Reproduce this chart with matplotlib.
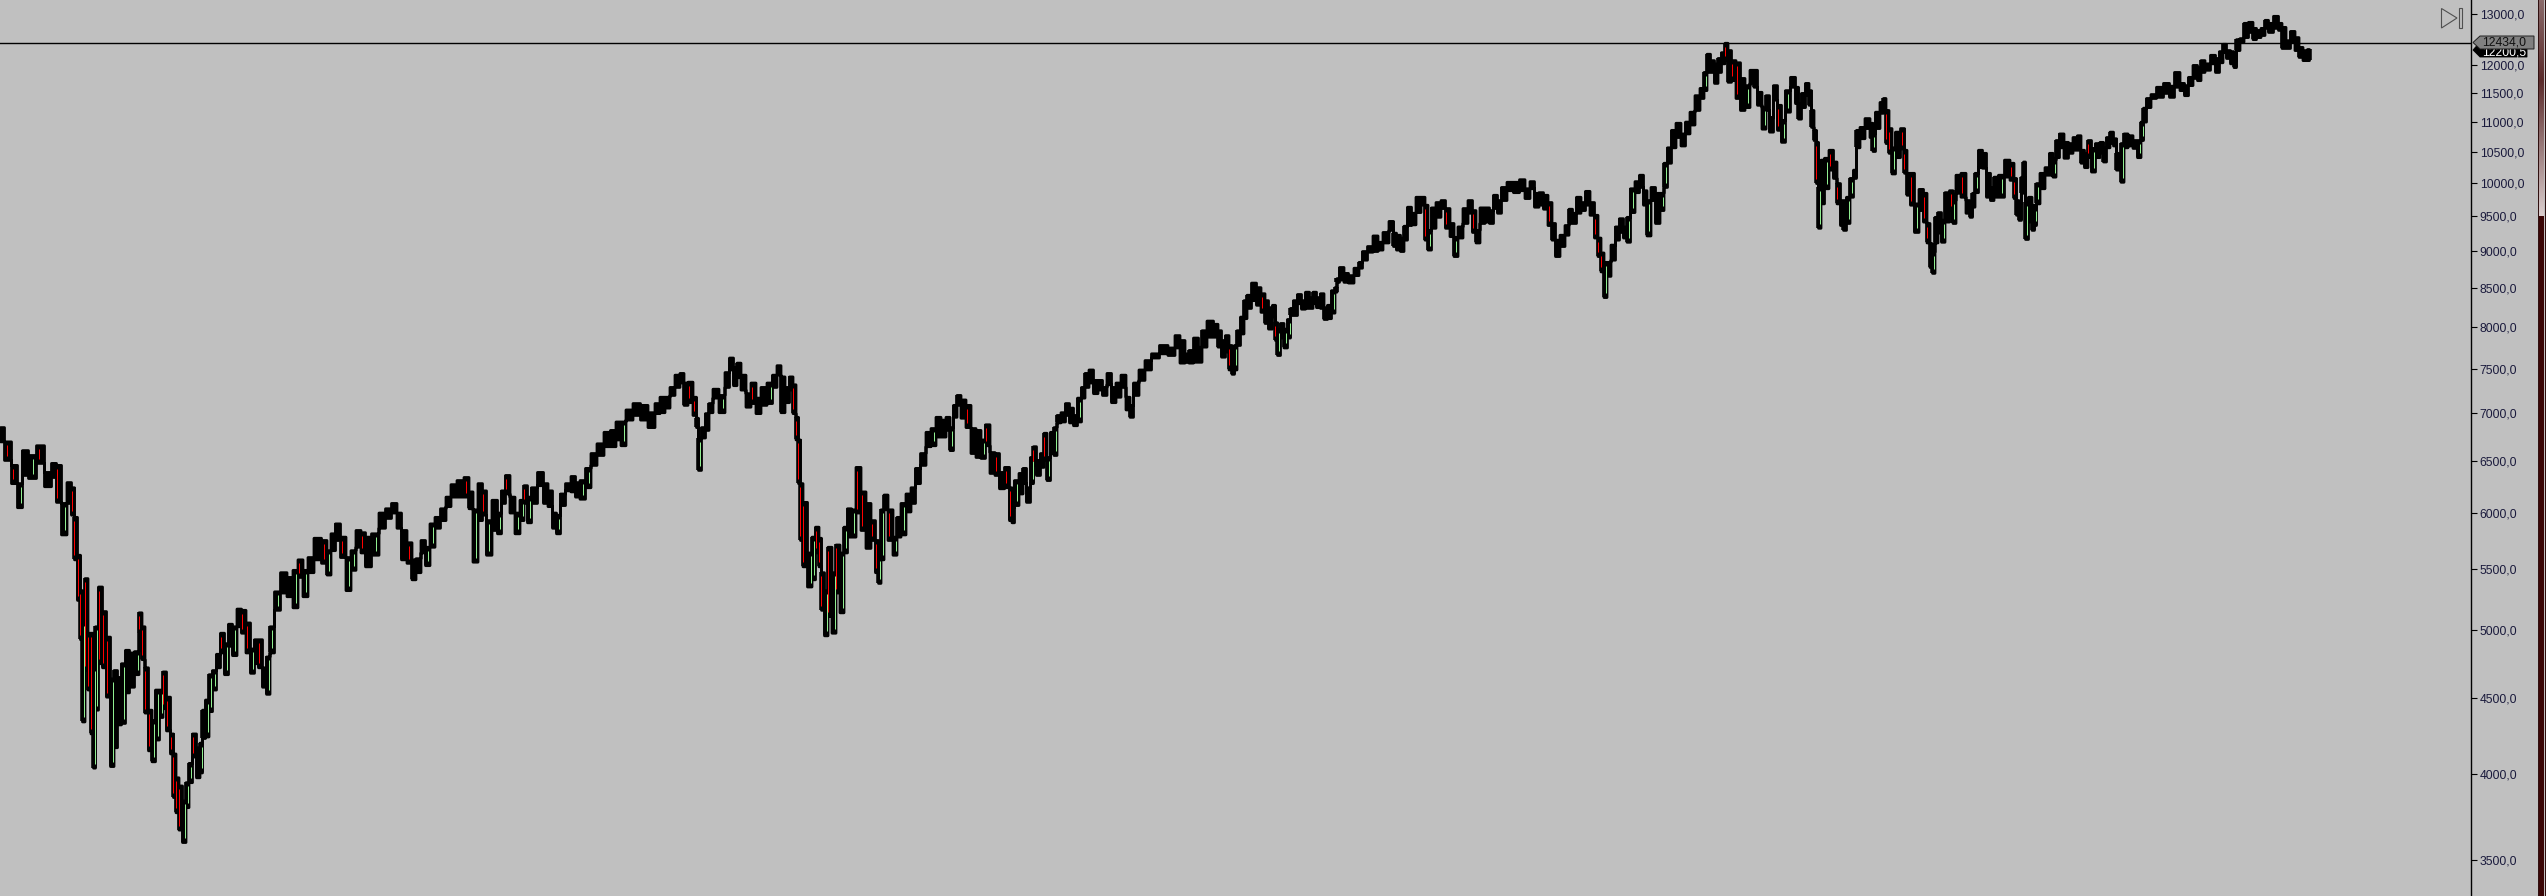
import numpy as np
import matplotlib
matplotlib.use("Agg")
import matplotlib.pyplot as plt
from matplotlib.patches import Polygon, Rectangle
from matplotlib.ticker import FixedLocator, FuncFormatter, NullLocator
from matplotlib.transforms import IdentityTransform

sessions = [0,8,14,20,24,32,40,48,54,58,64,69,73,75,79,81,83,86,89,92,94,96,100,104,108,112,115,119,123,127,131,137,140,143,146,150,153,157,161,164,168,172,174,177,180,184,187,190,194,198,201,203,207,210,214,218,222,226,230,234,239,243,248,252,256,260,264,268,271,277,283,290,295,300,305,310,317,325,328,333,337,343,348,353,358,363,367,375,382,388,394,399,
 403,410,413,418,423,427,432,437,443,448,453,460,467,470,475,480,484,488,495,499,503,507,512,517,522,525,529,533,541,545,550,554,558,562,568,573,577,582,588,593,600,607,613,618,623,628,637,643,652,657,662,667,672,677,682,685,690,695,697,699,703,707,710,715,722,727,731,735,738,743,748,753,758,763,770,774,779,782,787,791,794,797,799,801,804,
 810,813,817,820,822,826,829,834,837,842,845,849,853,858,863,868,873,877,879,882,885,890,895,898,903,908,913,917,923,928,933,938,943,948,951,955,958,963,968,973,978,983,987,992,997,1001,1007,1011,1012,1016,1021,1024,1028,1032,1034,1038,1042,1045,1048,1052,1055,1058,1063,1067,1071,1075,1079,1083,1086,1091,1095,1100,1104,1109,1113,1118,1123,1128,1131,1135,1142,1147,1155,1163,1172,1177,
 1182,1187,1190,1196,1200,1203,1210,1216,1219,1223,1227,1230,1233,1235,1238,1242,1245,1248,1254,1258,1263,1266,1270,1274,1276,1278,1282,1285,1289,1291,1295,1299,1303,1307,1311,1314,1318,1322,1325,1329,1333,1336,1337,1341,1346,1350,
 1357,1360,1364,1370,1375,1380,1385,1392,1394,1398,1402,1405,1409,1413,1418,1423,1426,1429,1433,1438,1443,1447,1452,1455,1460,1465,1470,1474,1477,1482,1487,1491,1495,1499,1503,1510,1516,1522,1527,1532,1536,1541,1545,1550,1553,1557,1562,1567,1570,1574,1578,1583,1587,1592,1596,1599,1602,1605,1608,1613,1617,1621,1625,1628,1632,1637,1641,1645,
 1648,1653,1657,1662,1665,1669,1673,1678,1683,1687,1692,1697,1702,1705,1708,1712,1716,1719,1723,1726,1729,1733,1738,1742,1747,1752,1755,1759,1764,1767,1771,1775,1779,1783,1787,1793,1797,1799,1803,1807,1810,1812,1815,1817,1819,1822,1826,1831,1835,1838,1842,1844,1848,1851,1855,1857,1862,1867,1872,1873,1877,1882,1884,1887,1890,1893,1897,1903,1905,1908,1912,1916,1921,1925,1928,1931,1933,1936,1939,1943,1946,1952,1953,1958,1963,1968,1971,1973,1976,1980,1984,1988,1992,1995,2001,2007,2012,2015,2017,
 2020,2022,2024,2026,2030,2033,2035,2037,2042,2047,2051,2054,2057,2061,2066,2070,2075,2079,2082,2086,2089,2093,2097,2102,2104,2108,2111,2115,2117,2119,2122,2125,2130,2135,2139,2142,2144,2148,2153,2159,2167,2171,2177,2182,2186,2190,2195,2199,2202,2207,2213,2217,2221,2224,2228,2232,2235,2237,2242,2245,2251,2254,2258,2263,2266,2270,2276,2280,2283,2288,2292,2297,2300,2305,2309]

highs = [6850,6700,6460,6280,6610,6560,6660,6390,6480,6460,6090,6290,6240,5960,5620,5320,5060,5420,4980,4980,4720,5030,5350,5150,4950,4640,4700,4650,4750,4850,4830,4840,5140,5030,4720,4420,4350,4560,4560,4690,4510,4260,4130,3980,3930,3840,3950,4070,4260,4170,4200,4420,4490,4670,4700,4820,4980,4900,5050,5030,5170,5160,5060,4860,4930,4930,4720,4800,5030,5310,5470,5430,5490,5580,5490,5600,5770,5750,5660,5810,5900,5780,5600,5660,5840,5820,5780,5810,6000,6040,6090,6000,
 5840,5730,5580,5590,5750,5690,5900,5960,6040,6150,6270,6310,6340,6200,6030,6280,6210,5930,6120,6000,6210,6360,6150,6000,6120,6260,6150,6240,6390,6280,6210,6000,5980,6180,6280,6350,6290,6310,6430,6580,6680,6800,6820,6910,6910,7040,7110,7090,7010,7110,7180,7180,7290,7430,7450,7340,7350,7180,6950,6740,6850,7000,7110,7270,7200,7460,7630,7520,7570,7430,7220,7340,7170,7290,7340,7430,7540,7410,7290,7410,7320,6960,6720,6280,6100,
 5640,5780,5870,5770,5470,5320,5690,5470,5710,5640,5870,6040,6030,6440,6200,6090,5930,5750,5600,6030,6170,6030,5780,5960,6090,6180,6240,6430,6580,6800,6840,6960,6930,6960,6850,7090,7200,7150,7090,6840,6820,6720,6880,6590,6580,6390,6440,6240,6050,6310,6380,6430,6240,6540,6650,6510,6580,6790,6540,6800,6850,6980,7010,7110,7060,6980,7170,7290,7450,7490,7370,7370,7290,7450,7290,7340,7430,7180,7090,7340,7490,7600,7680,7780,7750,7900,
 7840,7680,7720,7870,7760,7960,8080,8040,7960,7840,7900,7780,7600,7780,7960,8130,8340,8410,8570,8510,8430,8340,8250,8280,8060,7980,8050,7980,8100,8240,8340,8420,8340,8450,8380,8450,8380,8430,8250,8280,8470,8510,8630,8780,8700,8670,
 8770,8850,9000,9070,9220,9130,9270,9430,9260,9230,9190,9360,9640,9550,9790,9790,9670,9300,9630,9710,9740,9620,9400,9200,9350,9620,9740,9590,9300,9630,9630,9590,9820,9740,9940,10020,10020,10060,9920,10030,9850,9860,9820,9710,9400,9160,9230,9370,9610,9550,9790,9710,9880,9710,9520,9190,8980,8850,8850,9090,9350,9470,9350,9490,9920,10030,10130,9890,
 9740,9940,9850,9850,10320,10570,10860,10980,10800,11000,11170,11460,11590,11880,12220,12100,12040,12140,12250,12430,12290,12100,12060,11770,11640,11920,11920,11520,11250,11460,11080,11640,11290,11030,11550,11790,11610,11320,11500,11680,11550,11200,10860,10660,9940,10370,10400,10530,10340,10000,9740,9740,9790,10080,10210,10860,10910,11060,10980,10800,11170,11340,11410,11200,10890,10570,10830,10890,10530,10160,10160,9690,9910,9850,9400,9110,8990,9490,9560,9450,9860,9890,9740,10130,10160,9740,9690,9850,10160,10530,10480,10160,9940,10100,10130,10370,10320,10080,9740,
 9690,10100,10340,9710,9790,9670,9640,10000,10160,10250,10480,10370,10690,10800,10660,10640,10740,10770,10530,10480,10690,10560,10640,10660,10570,10740,10830,10720,10480,10370,10640,10800,10770,10690,10690,11000,11240,11410,11480,11610,11680,11630,11880,11680,11640,11790,12010,11970,12100,12040,12200,12140,12270,12410,12290,12270,12100,12500,12520,12820,12840,12720,12680,12720,12880,12820,12960,12820,12740,12480,12660,12540,12350,12290,12310]

lows = [6700,6510,6280,6050,6360,6330,6480,6250,6340,6100,5800,6090,5980,5580,5240,4930,4340,4700,4560,4260,4040,4420,4750,4720,4510,4050,4170,4320,4330,4540,4580,4670,4980,4780,4400,4150,4080,4220,4370,4430,4280,4130,3860,3770,3670,3600,3800,3950,4110,3980,4010,4230,4240,4410,4560,4720,4830,4670,4880,4810,5030,4980,4830,4680,4750,4720,4580,4530,4830,5160,5300,5270,5180,5430,5270,5470,5580,5550,5450,5660,5750,5600,5320,5490,5690,5640,5520,5620,5860,5950,6000,5860,
 5580,5550,5410,5470,5640,5530,5690,5860,5930,6060,6150,6150,6150,6040,5560,5930,5980,5620,5840,5810,6090,6180,6000,5810,5930,6090,5910,6090,6260,6090,6060,5860,5810,6070,6210,6200,6150,6130,6240,6460,6560,6650,6650,6720,6660,6930,6980,6930,6850,7000,7010,7060,7200,7290,7340,7090,7120,6980,6850,6410,6740,6820,7010,7170,7010,7290,7490,7310,7400,7260,7070,7110,7000,7090,7110,7290,7430,7010,7120,7260,7000,6720,6280,5750,5520,
 5350,5410,5640,5520,5160,4960,5110,4980,5300,5140,5640,5780,5780,6000,5840,5680,5750,5470,5380,5580,6030,5750,5620,5780,5800,6010,6090,6280,6460,6650,6660,6750,6750,6820,6610,6960,7090,6950,6850,6580,6540,6530,6660,6380,6360,6230,6240,5930,5910,6070,6180,6280,6100,6280,6460,6360,6440,6510,6310,6580,6560,6900,6910,6980,6900,6870,6910,7170,7290,7340,7220,7260,7200,7320,7120,7180,7290,7040,6960,7200,7370,7490,7630,7680,7660,7750,
 7570,7580,7570,7580,7580,7760,7880,7880,7760,7640,7700,7490,7440,7490,7780,7920,8110,8240,8340,8280,8190,8050,7980,8130,7840,7660,7870,7750,7870,8150,8150,8300,8230,8240,8240,8300,8250,8240,8100,8110,8180,8450,8580,8610,8580,8570,
 8670,8770,8880,8990,9000,9020,9120,9300,9070,9020,9000,9160,9370,9380,9560,9670,9160,9020,9330,9490,9620,9330,9210,8930,9190,9400,9550,9270,9120,9400,9420,9400,9620,9550,9740,9890,9860,9890,9770,9920,9640,9670,9610,9370,9160,8930,9070,9230,9400,9400,9550,9590,9670,9520,9190,8930,8720,8380,8660,8880,9160,9270,9190,9130,9560,9860,9940,9670,
 9220,9740,9400,9590,9940,10320,10570,10740,10600,10800,10950,11200,11410,11550,11880,11880,11680,11880,12040,12100,11700,11730,11410,11200,11250,11680,11610,11290,10880,11200,10830,11380,10860,10660,11170,11610,11320,11050,11250,11460,11290,10910,10690,10000,9330,9690,9920,10210,10080,9690,9370,9300,9400,9790,10080,10570,10720,10890,10740,10510,10890,11150,11200,10640,10480,10150,10410,10550,10160,9820,9670,9270,9590,9420,9120,8780,8700,9120,9260,9130,9420,9590,9400,9850,9790,9550,9490,9640,9860,10250,10240,9790,9740,9790,9790,10100,10050,9770,9520,
 9445,9850,10100,9170,9420,9300,9370,9690,9920,10130,10130,10100,10410,10570,10400,10480,10530,10530,10320,10250,10410,10180,10410,10480,10340,10570,10640,10600,10210,10210,10020,10570,10600,10560,10410,10690,11000,11250,11410,11430,11500,11430,11610,11550,11460,11640,11770,11730,11880,11920,12040,11880,12060,12250,12140,12040,11970,12290,12450,12540,12640,12500,12540,12580,12720,12640,12720,12680,12330,12330,12450,12290,12160,12100,12100]

price_ticks = [3500,4000,4500,5000,5500,6000,6500,7000,7500,8000,8500,9000,9500,10000,10500,11000,11500,12000,13000]
line_price = 12434.0
tag_line = "12434,0"
tag_last = "12200,5"

W, H = 2546, 896
BG = "#C0C0C0"
fig = plt.figure(figsize=(W/100, H/100), dpi=100, facecolor=BG)
ax = fig.add_axes([0, 0, 2471/W, 1], facecolor=BG)
ax.set_xlim(0, 2471)
ax.set_yscale("log")
ax.set_ylim(3311, 13282)

s = np.array(sessions, float)
hi = np.array(highs, float)
lo = np.array(lows, float)

ax.fill_between(s, lo, hi, step="mid", color="black", linewidth=2.0, zorder=3)
ax.vlines(s, lo, hi, color="black", linewidth=4.0, zorder=3)

# candle bodies: one pixel stroke inside the black outline, only on the large moves
mid = np.sqrt(hi * lo)
nxt = np.r_[mid[1:], mid[-1]]
inset = np.exp(4.0 / 645)
tall = hi / lo > np.exp(17 / 645)
move = np.abs(np.log(nxt / mid)) * 645
up = (nxt >= mid) & tall & (move > 9)
down = (nxt < mid) & tall & (move > 9)
ax.vlines(s[up] + 1, lo[up] * inset, hi[up] / inset, color="#90EE90", linewidth=0.72, zorder=4)
ax.vlines(s[down] - 1, lo[down] * inset, hi[down] / inset, color="#FF0000", linewidth=0.72, zorder=4)

ax.axhline(line_price, color="black", linewidth=1.0, zorder=5)

for side in ("left", "top", "bottom"):
    ax.spines[side].set_visible(False)
ax.spines["right"].set_linewidth(1.0)
ax.spines["right"].set_color("black")
ax.set_xticks([])
ax.yaxis.tick_right()
ax.yaxis.set_major_locator(FixedLocator(price_ticks))
ax.yaxis.set_minor_locator(NullLocator())
ax.yaxis.set_major_formatter(FuncFormatter(lambda v, p: f"{v:.1f}".replace(".", ",")))
ax.tick_params(axis="y", which="major", length=4.3, width=0.8, color="black", pad=2,
               labelsize=8.7, labelcolor="#1A1A3C")
for t in ax.get_yticklabels():
    t.set_fontfamily("Liberation Sans")

tr = IdentityTransform()
def P(y):
    return H - y

# price tags
fig.add_artist(Polygon([(2473, P(50)), (2480, P(42)), (2527, P(42)), (2527, P(57)), (2480, P(57))],
                       closed=True, fc="black", ec="black", lw=0.6, transform=tr, zorder=6))
fig.text(2482/W, 1 - 52.5/H, tag_last, color="white", fontsize=8.7, family="Liberation Sans",
         va="center", ha="left", zorder=7)
fig.add_artist(Polygon([(2473, P(42.5)), (2480, P(36)), (2534, P(36)), (2534, P(49)), (2480, P(49))],
                       closed=True, fc="#808080", ec="#202020", lw=0.7, transform=tr, zorder=8))
fig.text(2482/W, 1 - 42.5/H, tag_line, color="#101010", fontsize=8.7, family="Liberation Sans",
         va="center", ha="left", zorder=9)

# scroll-to-end icon
fig.add_artist(Polygon([(2441.5, P(8.5)), (2457, P(18)), (2441.5, P(28))], closed=True, fc="none",
                       ec="#505050", lw=0.8, transform=tr, zorder=6))
fig.add_artist(Rectangle((2458.5, P(28)), 3, 20, fc="none", ec="#505050", lw=0.8, transform=tr, zorder=6))

# right edge gradient strip
st = fig.add_axes([2539/W, 0, 5/W, 1])
st.axis("off")
c_top = np.array([0x8A, 0x6A, 0x6A]) / 255
c_dark = np.array([0x5A, 0x2A, 0x2A]) / 255
c_light = np.array([0xDC, 0xCF, 0xCF]) / 255
c_solid = np.array([0x3A, 0x05, 0x05]) / 255
rows = np.arange(H)
img = np.zeros((H, 1, 3))
a = rows < 80
b = (rows >= 80) & (rows < 216)
img[a, 0] = c_top + (c_dark - c_top) * (rows[a] / 80)[:, None]
img[b, 0] = c_dark + (c_light - c_dark) * ((rows[b] - 80) / 136)[:, None]
img[rows >= 216, 0] = c_solid
st.imshow(img, aspect="auto", interpolation="nearest")
fig.add_artist(Rectangle((2538, 0), 1.2, H, fc="#301010", ec="none", transform=tr, zorder=6))
fig.add_artist(Rectangle((2545, 0), 1, H, fc="#301010", ec="none", transform=tr, zorder=6))

fig.savefig("out.png", dpi=100, facecolor=BG)
